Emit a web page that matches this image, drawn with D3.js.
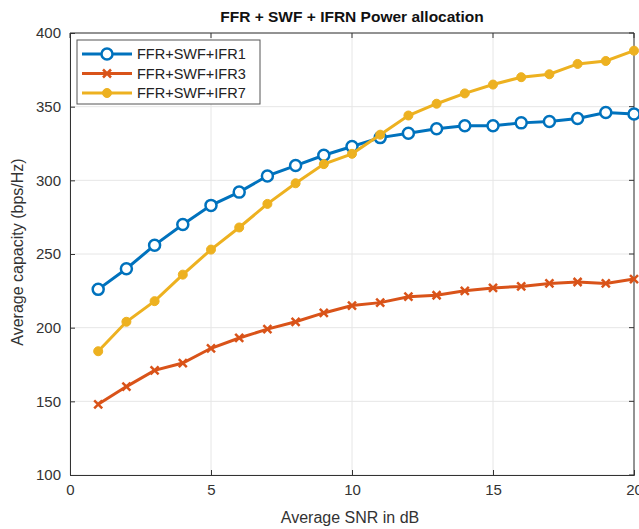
<!DOCTYPE html>
<html><head><meta charset="utf-8">
<script src="https://cdn.jsdelivr.net/npm/d3@7"></script>
<style>body{margin:0;background:#fff}svg{display:block}</style>
</head><body>
<svg id="c" width="639" height="529"></svg>
<script>
const snr = [1,2,3,4,5,6,7,8,9,10,11,12,13,14,15,16,17,18,19,20];
const ifr1 = [226,240,256,270,283,292,303,310,317,323,329,332,335,337,337,339,340,342,346,345];
const ifr3 = [148,160,171,176,186,193,199,204,210,215,217,221,222,225,227,228,230,231,230,233];
const ifr7 = [184,204,218,236,253,268,284,298,311,318,331,344,352,359,365,370,372,379,381,388];
const xTicks = [0,5,10,15,20];
const yTicks = [100,150,200,250,300,350,400];
const seriesNames = ["FFR+SWF+IFR1","FFR+SWF+IFR3","FFR+SWF+IFR7"];
const colors = ["#0072BD","#D95319","#EDB120"];

const svg = d3.select("#c");
const L=70,R=634,T=33,B=475;
const x = d3.scaleLinear().domain([0,20]).range([L,R]);
const y = d3.scaleLinear().domain([100,400]).range([B,T]);
const font = "Liberation Sans, Arial, sans-serif";

// grid
svg.append("g").selectAll("line").data(xTicks).join("line")
  .attr("x1",d=>x(d)).attr("x2",d=>x(d)).attr("y1",T).attr("y2",B)
  .attr("stroke","#e6e6e6").attr("stroke-width",1);
svg.append("g").selectAll("line").data(yTicks).join("line")
  .attr("y1",d=>y(d)).attr("y2",d=>y(d)).attr("x1",L).attr("x2",R)
  .attr("stroke","#e6e6e6").attr("stroke-width",1);

// axes
const xa = svg.append("g").attr("transform",`translate(0,${B})`)
  .call(d3.axisBottom(x).tickValues(xTicks).tickSize(-5).tickPadding(9));
const ya = svg.append("g").attr("transform",`translate(${L},0)`)
  .call(d3.axisLeft(y).tickValues(yTicks).tickSize(-5).tickPadding(9));
[xa,ya].forEach(a=>{
  a.selectAll("path").attr("stroke","#333");
  a.selectAll("line").attr("stroke","#333");
  a.selectAll("text").attr("font-family",font).attr("font-size","15px").attr("fill","#333");
});
// top/right box
svg.append("line").attr("x1",L).attr("x2",R).attr("y1",T).attr("y2",T).attr("stroke","#333");
svg.append("line").attr("x1",R).attr("x2",R).attr("y1",T).attr("y2",B).attr("stroke","#333");
svg.append("g").selectAll("line").data(xTicks).join("line")
  .attr("x1",d=>x(d)).attr("x2",d=>x(d)).attr("y1",T).attr("y2",T+5).attr("stroke","#333");
svg.append("g").selectAll("line").data(yTicks).join("line")
  .attr("x1",R-5).attr("x2",R).attr("y1",d=>y(d)).attr("y2",d=>y(d)).attr("stroke","#333");

// series
const data = [ifr1,ifr3,ifr7];
const line = d3.line().x((d,i)=>x(snr[i])).y(d=>y(d));
data.forEach((s,k)=>{
  const g = svg.append("g");
  g.append("path").datum(s).attr("d",line).attr("fill","none")
    .attr("stroke",colors[k]).attr("stroke-width",3);
  s.forEach((v,i)=>drawMarker(g,x(snr[i]),y(v),k));
});

function drawMarker(g,px,py,k){
  if(k===0){
    g.append("circle").attr("cx",px).attr("cy",py).attr("r",5.5)
      .attr("fill","#fff").attr("stroke",colors[0]).attr("stroke-width",2.5);
  } else if(k===1){
    const s=4;
    g.append("path").attr("d",`M${px-s},${py-s}L${px+s},${py+s}M${px-s},${py+s}L${px+s},${py-s}`)
      .attr("stroke",colors[1]).attr("stroke-width",2.5);
  } else {
    g.append("circle").attr("cx",px).attr("cy",py).attr("r",4.5)
      .attr("fill",colors[2]).attr("stroke",colors[2]).attr("stroke-width",1);
  }
}

// legend
const lg = svg.append("g");
lg.append("rect").attr("x",77).attr("y",40).attr("width",183).attr("height",64)
  .attr("fill","#fff").attr("stroke","#555").attr("stroke-width",1);
seriesNames.forEach((n,k)=>{
  const ly = 54 + k*19.5;
  lg.append("line").attr("x1",82).attr("x2",132).attr("y1",ly).attr("y2",ly)
    .attr("stroke",colors[k]).attr("stroke-width",3);
  drawMarker(lg,107,ly,k);
  lg.append("text").attr("x",137).attr("y",ly+5).text(n)
    .attr("font-family",font).attr("font-size","14.5px").attr("fill","#222");
});

// titles
svg.append("text").attr("x",(L+R)/2).attr("y",22).attr("text-anchor","middle")
  .attr("font-family",font).attr("font-size","15.5px").attr("font-weight","bold").attr("fill","#111")
  .text("FFR + SWF + IFRN Power allocation");
svg.append("text").attr("x",(L+R)/2-2).attr("y",523).attr("text-anchor","middle")
  .attr("font-family",font).attr("font-size","16px").attr("fill","#333")
  .text("Average SNR in dB");
svg.append("text").attr("transform",`translate(23,${(T+B)/2-2}) rotate(-90)`).attr("text-anchor","middle")
  .attr("font-family",font).attr("font-size","16px").attr("fill","#333")
  .text("Average capacity (bps/Hz)");
</script>
</body></html>
